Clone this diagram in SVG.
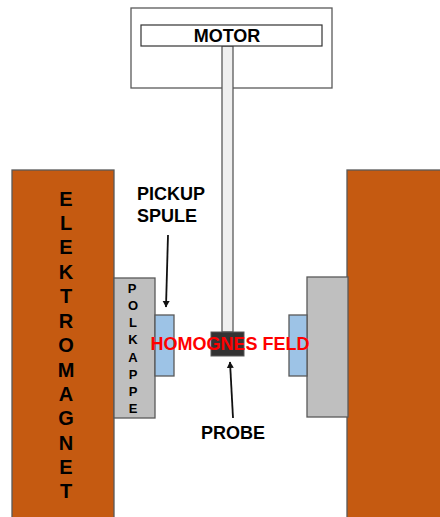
<svg xmlns="http://www.w3.org/2000/svg" width="440" height="517" viewBox="0 0 440 517">
<style>
.k{stroke:#595959;stroke-width:1.3}
.t{font-family:"Liberation Sans",Arial,sans-serif;font-weight:700;fill:#000}
.b{font-size:18px}
.e{font-size:20px;text-anchor:middle}
.p{font-size:13px;text-anchor:middle}
.l{font-size:18px}
.a{stroke:#111;stroke-width:1.8;fill:none;marker-end:url(#h)}
</style>
<defs><marker id="h" markerUnits="userSpaceOnUse" markerWidth="7" markerHeight="8" refX="6" refY="4" orient="auto"><path d="M0 0.5L6.5 4L0 7.5Z" fill="#111"/></marker></defs>
<rect width="440" height="517" fill="#fff"/>
<g id="motor">
<rect x="131" y="8" width="201" height="80" fill="#fff" class="k"/>
<rect x="222" y="46" width="11" height="286" fill="#efefef" class="k"/>
<rect x="141" y="25" width="181" height="21" fill="#fff" stroke="#333" stroke-width="1.2"/>
<text x="227" y="42" class="t b" text-anchor="middle">MOTOR</text>
</g>
<g id="elektromagnet-left">
<rect x="12" y="170" width="102" height="348" fill="#c55a11" class="k"/>
<g class="t e">
<text x="66" y="206">E</text><text x="66" y="230">L</text><text x="66" y="254">E</text><text x="66" y="279">K</text><text x="66" y="303">T</text><text x="66" y="328">R</text><text x="66" y="352">O</text><text x="66" y="377">M</text><text x="66" y="401">A</text><text x="66" y="425">G</text><text x="66" y="450">N</text><text x="66" y="474">E</text><text x="66" y="498">T</text>
</g>
</g>
<g id="elektromagnet-right"><rect x="347" y="170" width="94" height="348" fill="#c55a11" class="k"/></g>
<g id="polkappe-left">
<rect x="114" y="278" width="41" height="140" fill="#bfbfbf" class="k"/>
<g class="t p">
<text x="132" y="293">P</text><text x="133" y="310">O</text><text x="133" y="327">L</text><text x="133" y="344">K</text><text x="133" y="362">A</text><text x="133" y="379">P</text><text x="133" y="396">P</text><text x="133" y="413">E</text>
</g>
</g>
<g id="polkappe-right"><rect x="307" y="277" width="41" height="140" fill="#bfbfbf" class="k"/></g>
<g id="spule-left"><rect x="155" y="315" width="19" height="61" fill="#9dc3e6" class="k"/></g>
<g id="spule-right"><rect x="289" y="315" width="18" height="61" fill="#9dc3e6" class="k"/></g>
<g id="probe"><rect x="211" y="332" width="33" height="24" fill="#333" stroke="#595959"/></g>
<g id="connectors">
<path class="a" d="M168 235L166 307"/>
<path class="a" d="M233 418L230 362"/>
</g>
<g id="labels">
<text x="137" y="200" class="t l">PICKUP</text>
<text x="137" y="222" class="t l">SPULE</text>
<text x="233" y="439" class="t l" text-anchor="middle">PROBE</text>
<text x="230" y="350" font-family="'Liberation Sans',Arial,sans-serif" font-weight="700" font-size="18" fill="#f00" text-anchor="middle">HOMOGNES FELD</text>
</g>
</svg>
